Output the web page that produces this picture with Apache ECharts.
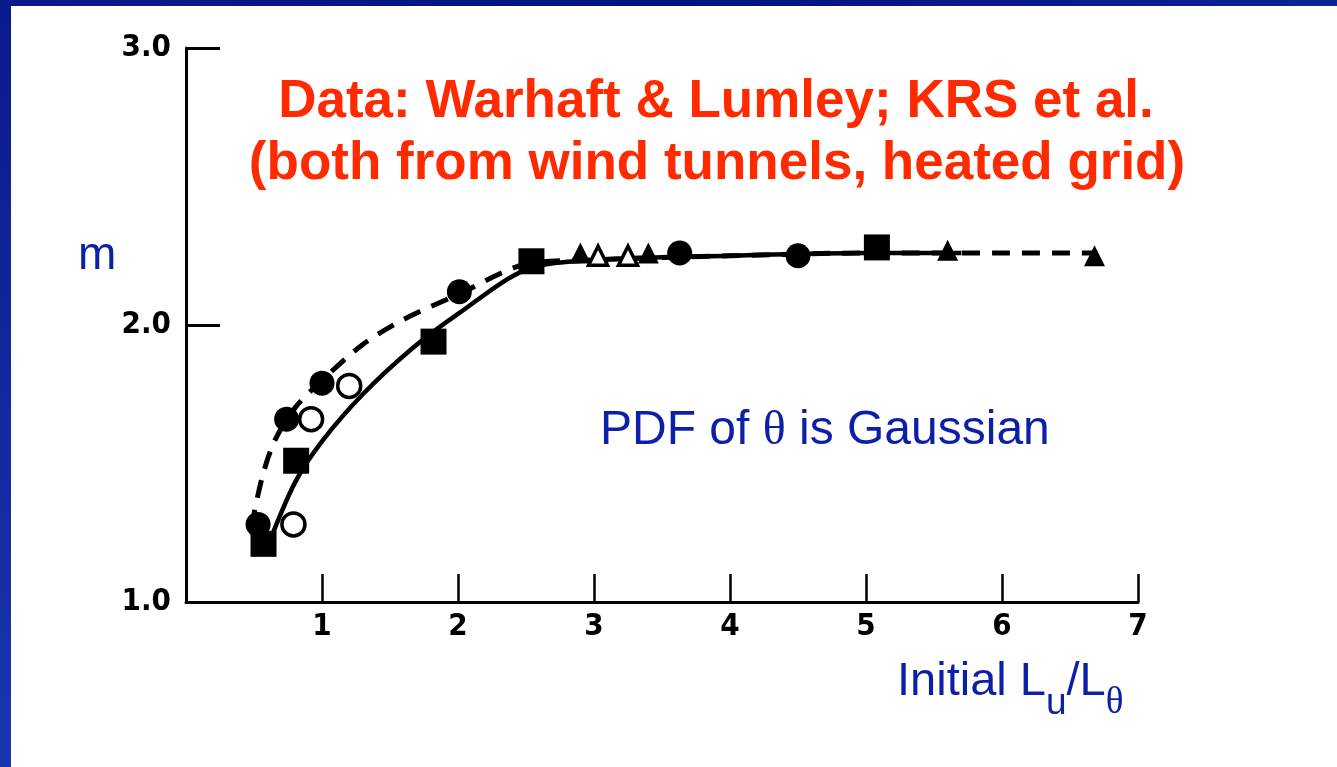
<!DOCTYPE html>
<html>
<head>
<meta charset="utf-8">
<script src="https://cdn.jsdelivr.net/npm/echarts@6/dist/echarts.min.js"></script>
<style>
html,body{margin:0;padding:0;background:#fff;}
#chart{width:1337px;height:767px;}
</style>
</head>
<body>
<div id="chart"></div>
<script>
// ---- data ----
const xTickLabels = ['', '1', '2', '3', '4', '5', '6', '7'];
const yTickLabels = ['1.0', '2.0', '3.0'];

const filledCircles = [[0.53,1.28],[0.74,1.66],[1.0,1.79],[2.01,2.12],[3.63,2.26],[4.5,2.25]];
const filledSquares = [[0.57,1.21],[0.81,1.51],[1.82,1.94],[2.54,2.23],[5.08,2.28]];
const openCircles = [[0.79,1.28],[0.92,1.66],[1.2,1.78]];
const filledTriangles = [[2.90,2.26],[3.40,2.26],[5.6,2.27],[6.68,2.25]];
const openTriangles = [[3.03,2.25],[3.25,2.25]];

const solidFit = [[0.6,1.2],[0.8,1.43],[1.0,1.58],[1.3,1.75],[1.65,1.91],[2.0,2.04],[2.5,2.2],[3.0,2.235],[4.0,2.25],[5.0,2.26],[5.7,2.26]];
const dashedFit = [[0.48,1.27],[0.56,1.45],[0.65,1.58],[0.8,1.7],[1.0,1.8],[1.3,1.93],[1.6,2.02],[2.0,2.11],[2.5,2.22],[3.0,2.235],[4.0,2.25],[5.0,2.26],[6.7,2.26]];

const titleLine1 = 'Data: Warhaft & Lumley; KRS et al.';
const titleLine2 = '(both from wind tunnels, heated grid)';
const yName = 'm';
const noteText = 'PDF of {t|θ} is Gaussian';
const xNameParts = ['Initial L', 'u', '/L', 'θ'];

// ---- rendering ----
const RED = '#ff2a00';
const BLUE = '#0c1fa8';
const SANS = "'Liberation Sans', Arial, sans-serif";
const TICKFONT = "'DejaVu Sans Condensed', 'DejaVu Sans', sans-serif";

const chart = echarts.init(document.getElementById('chart'), null, {renderer: 'canvas'});

const ctx = document.createElement('canvas').getContext('2d');
function w(text, font){ ctx.font = font; return ctx.measureText(text).width; }
const mainFont = '47px ' + SANS;
const subFont = '37px ' + SANS;
const subFontT = '37px ' + "'Liberation Serif', serif";
const xn0 = 897, xnBase = 706;
const xPos = [xn0];
xPos.push(xPos[0] + w(xNameParts[0], mainFont));
xPos.push(xPos[1] + w(xNameParts[1], subFont));
xPos.push(xPos[2] + w(xNameParts[2], mainFont));

function scatter(name, data, symbol, size, filled){
  return {
    name, type: 'scatter', data, symbol, symbolSize: size, z: 5,
    itemStyle: filled ? {color: '#000', opacity: 1} : {color: '#fff', borderColor: '#000', borderWidth: 3.5, opacity: 1}
  };
}

const option = {
  backgroundColor: '#fff',
  animation: false,
  grid: {left: 186, top: 48, width: 952, height: 554, outerBoundsMode: 'none'},
  xAxis: {
    type: 'value', min: 0, max: 7, interval: 1,
    axisLine: {onZero: false, lineStyle: {color: '#000', width: 3}},
    axisTick: {inside: true, length: 28, lineStyle: {color: '#000', width: 2.5}},
    axisLabel: {margin: 9, color: '#000', fontFamily: TICKFONT, fontWeight: 'bold', fontSize: 31,
      formatter: v => xTickLabels[Math.round(v)] || ''},
    splitLine: {show: false}
  },
  yAxis: {
    type: 'value', min: 1, max: 3, interval: 1,
    axisLine: {onZero: false, lineStyle: {color: '#000', width: 3}},
    axisTick: {inside: true, length: 34, lineStyle: {color: '#000', width: 3}},
    axisLabel: {margin: 15, color: '#000', fontFamily: TICKFONT, fontWeight: 'bold', fontSize: 31,
      formatter: v => yTickLabels[Math.round(v) - 1] || ''},
    splitLine: {show: false}
  },
  series: [
    {name: 'solid fit', type: 'line', data: solidFit, smooth: 0.3, showSymbol: false, z: 3,
      lineStyle: {color: '#000', width: 4.5}},
    {name: 'dashed fit', type: 'line', data: dashedFit, smooth: 0.3, showSymbol: false, z: 3,
      lineStyle: {color: '#000', width: 5, type: [18, 12]}},
    scatter('filled circles', filledCircles, 'circle', 25, true),
    scatter('filled squares', filledSquares, 'rect', 26, true),
    scatter('open circles', openCircles, 'circle', 23, false),
    scatter('filled triangles', filledTriangles, 'triangle', 21, true),
    scatter('open triangles', openTriangles, 'triangle', 19, false)
  ],
  graphic: [
    {type: 'rect', shape: {x: 0, y: 0, width: 1337, height: 6}, z: 100,
      style: {fill: new echarts.graphic.LinearGradient(0, 0, 1, 0, [{offset: 0, color: '#0a1a8c'}, {offset: 0.5, color: '#00137f'}, {offset: 1, color: '#0d2296'}])}},
    {type: 'rect', shape: {x: 0, y: 0, width: 11, height: 767}, z: 100,
      style: {fill: new echarts.graphic.LinearGradient(0, 0, 0, 1, [{offset: 0, color: '#0a1a8c'}, {offset: 1, color: '#1a36b0'}])}},
    {type: 'text', x: 716, y: 102, z: 50,
      style: {text: titleLine1, fill: RED, font: 'bold 53px ' + SANS, textAlign: 'center', textVerticalAlign: 'middle'}},
    {type: 'text', x: 717, y: 164, z: 50,
      style: {text: titleLine2, fill: RED, font: 'bold 53px ' + SANS, textAlign: 'center', textVerticalAlign: 'middle'}},
    {type: 'text', x: 78, y: 256, z: 50,
      style: {text: yName, fill: BLUE, font: '46px ' + SANS, textAlign: 'left', textVerticalAlign: 'middle'}},
    {type: 'text', x: 600, y: 431, z: 50,
      style: {text: noteText, fill: BLUE, font: '48px ' + SANS, textAlign: 'left', textVerticalAlign: 'middle',
        rich: {t: {fontFamily: "'Liberation Serif', serif", fontSize: 48, fill: BLUE}}}},
    {type: 'text', x: xPos[0], y: xnBase, z: 50,
      style: {text: xNameParts[0], fill: BLUE, font: mainFont, textAlign: 'left', textVerticalAlign: 'bottom'}},
    {type: 'text', x: xPos[1], y: xnBase + 16, z: 50,
      style: {text: xNameParts[1], fill: BLUE, font: subFont, textAlign: 'left', textVerticalAlign: 'bottom'}},
    {type: 'text', x: xPos[2], y: xnBase, z: 50,
      style: {text: xNameParts[2], fill: BLUE, font: mainFont, textAlign: 'left', textVerticalAlign: 'bottom'}},
    {type: 'text', x: xPos[3], y: xnBase + 16, z: 50,
      style: {text: xNameParts[3], fill: BLUE, font: subFontT, textAlign: 'left', textVerticalAlign: 'bottom'}}
  ]
};
chart.setOption(option);
</script>
</body>
</html>
